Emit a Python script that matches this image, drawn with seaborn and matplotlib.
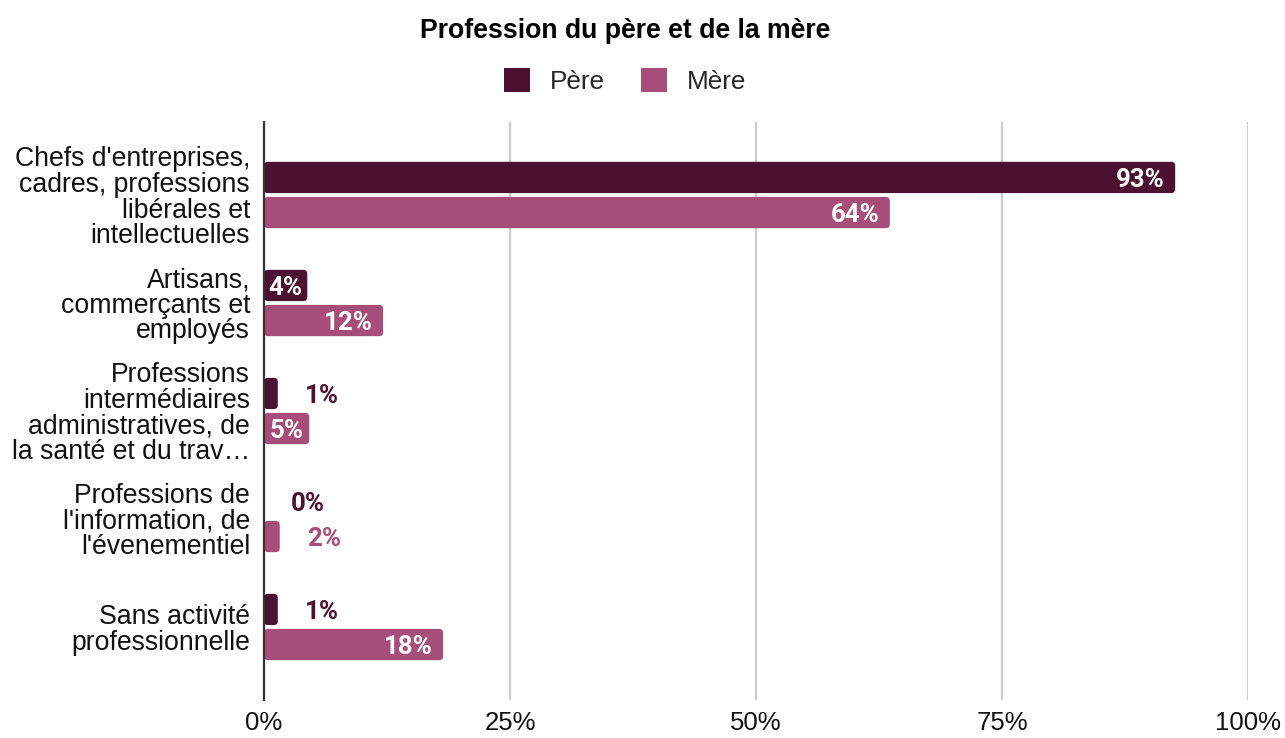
import matplotlib
matplotlib.use("Agg")
import matplotlib.pyplot as plt
import seaborn as sns
import pandas as pd
from matplotlib.patches import FancyBboxPatch, Patch

categories = [
    "Chefs d'entreprises,\ncadres, professions\nlibérales et\nintellectuelles",
    "Artisans,\ncommerçants et\nemployés",
    "Professions\nintermédiaires\nadministratives, de\nla santé et du trav…",
    "Professions de\nl'information, de\nl'évenementiel",
    "Sans activité\nprofessionnelle",
]
pere = [92.6, 4.4, 1.4, 0.0, 1.4]
mere = [63.6, 12.1, 4.6, 1.6, 18.2]
pere_labels = ["93%", "4%", "1%", "0%", "1%"]
mere_labels = ["64%", "12%", "5%", "2%", "18%"]
series = ["Père", "Mère"]
colors = ["#4c1130", "#a64d79"]
x_ticks = [0, 25, 50, 75, 100]
x_tick_labels = ["0%", "25%", "50%", "75%", "100%"]
title = "Profession du père et de la mère"

df = pd.DataFrame({
    "cat": categories * 2,
    "val": pere + mere,
    "serie": [series[0]] * len(categories) + [series[1]] * len(categories),
})

sns.set_theme(style="white")
plt.rcParams["font.family"] = ["Liberation Sans", "DejaVu Sans"]

W, H, DPI = 1285, 738, 100
fig = plt.figure(figsize=(W / DPI, H / DPI), dpi=DPI)
ax_l, ax_r, ax_t, ax_b = 264, 1248, 122, 700
ax = fig.add_axes([ax_l / W, 1 - ax_b / H, (ax_r - ax_l) / W, (ax_b - ax_t) / H])

sns.barplot(data=df, y="cat", x="val", hue="serie", palette=colors,
            orient="h", width=0.65, gap=0.11, ax=ax, legend=False,
            saturation=1, errorbar=None)

ax.set_xlim(0, 100)
ax.set_ylim(4.676, -0.676)

# rounded bars
px_per_x = (ax_r - ax_l) / 100.0
px_per_y = (ax_b - ax_t) / 5.352
aspect = px_per_x / px_per_y
r_px = 4
for p in list(ax.patches):
    x0, y0 = p.get_x(), p.get_y()
    w, h = p.get_width(), p.get_height()
    fc = p.get_facecolor()
    p.set_visible(False)
    if w <= 0:
        continue
    r = min(r_px / px_per_x, w / 2)
    fb = FancyBboxPatch((x0, y0), w, h,
                        boxstyle=f"round,pad=0,rounding_size={r}",
                        mutation_aspect=aspect, facecolor=fc,
                        edgecolor="none", zorder=3)
    ax.add_patch(fb)

# labels
offset_y = 0.162
lab_fs = 18.6
for i in range(len(categories)):
    for val, lab, col, dy in [(pere[i], pere_labels[i], colors[0], -offset_y),
                              (mere[i], mere_labels[i], colors[1], offset_y)]:
        y = i + dy
        if val >= 10:
            ax.annotate(lab, (val, y), xytext=(-7.5, 0), textcoords="offset points",
                        ha="right", va="center_baseline", color="white",
                        fontsize=lab_fs, fontweight="bold", family="Roboto", zorder=5)
        elif val >= 3:
            ax.annotate(lab, (val / 2, y), xytext=(0, 0), textcoords="offset points",
                        ha="center", va="center_baseline", color="white",
                        fontsize=lab_fs, fontweight="bold", family="Roboto", zorder=5)
        else:
            ax.annotate(lab, (val, y), xytext=(19.5, 0), textcoords="offset points",
                        ha="left", va="center_baseline", color=col,
                        fontsize=lab_fs, fontweight="bold", family="Roboto", zorder=5)

ax.set_xticks(x_ticks)
ax.set_xticklabels(x_tick_labels, fontsize=18.5, color="#111111")
ax.set_yticks(range(len(categories)))
ax.set_yticklabels(categories, fontsize=19.2, color="#111111", linespacing=0.98)
ax.tick_params(axis="both", length=0)
ax.tick_params(axis="y", pad=10)
ax.tick_params(axis="x", pad=8)
ax.set_xlabel("")
ax.set_ylabel("")
ax.grid(axis="x", color="#cccccc", linewidth=1.6, zorder=0)
ax.grid(axis="y", visible=False)
ax.set_axisbelow(True)
for s in ["top", "right", "bottom"]:
    ax.spines[s].set_visible(False)
ax.spines["left"].set_color("#333333")
ax.spines["left"].set_linewidth(1.6)
ax.spines["left"].set_zorder(4)

fig.text(625 / W, 1 - 31 / H, title, ha="center", va="center",
         fontsize=19.2, fontweight="bold", color="#000000")

handles = [Patch(facecolor=c, edgecolor="none") for c in colors]
fig.legend(handles, series, loc="center", bbox_to_anchor=(625 / W, 1 - 81 / H),
           ncol=2, frameon=False, fontsize=18.8, handlelength=1.0,
           handleheight=1.0, handletextpad=0.75, columnspacing=1.4)

fig.savefig("out.png", dpi=DPI)
